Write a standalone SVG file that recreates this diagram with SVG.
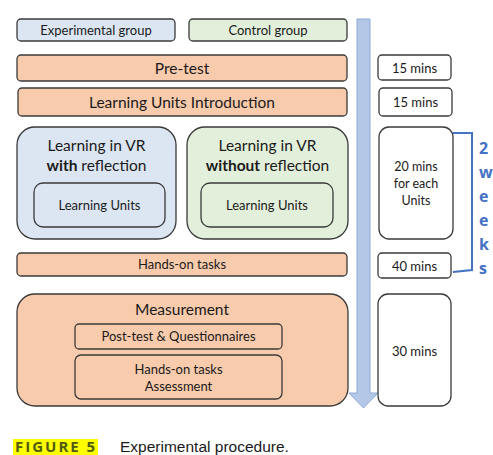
<svg xmlns="http://www.w3.org/2000/svg" width="493" height="455" viewBox="0 0 493 455">
<style>
text{font-family:Lato,"Open Sans","Liberation Sans",sans-serif;fill:#1a1a1a;text-anchor:middle}
.box{stroke:#3a3a3a;stroke-width:1.3}
.blue{fill:#dce6f2}
.green{fill:#e2efda}
.orange{fill:#f8cbad}
.white{fill:#ffffff}
.t15{font-size:15.5px}
.t13{font-size:13px}
.t12{font-size:12.5px}
.side{font-family:"Open Sans","Liberation Sans",sans-serif;font-weight:bold;fill:#4472c4;font-size:16px;text-anchor:start}
</style>
<rect width="493" height="455" fill="#ffffff"/>
<g id="connectors">
<path d="M357,19 H370 V393 H378 L363.5,408 L349,393 H357 Z" fill="#b4c7e7" stroke="#8eaadb" stroke-width="1"/>
<path d="M453,133 H472 V270 L453,272" fill="none" stroke="#4472c4" stroke-width="2"/>
</g>
<g id="exp-group"><rect class="box blue" x="17" y="19" width="158" height="22" rx="4"/><text class="t13" x="96" y="35">Experimental group</text></g>
<g id="ctrl-group"><rect class="box green" x="189" y="19" width="158" height="22" rx="4"/><text class="t13" x="268" y="35">Control group</text></g>
<g id="pretest"><rect class="box orange" x="17" y="55" width="330" height="26" rx="4"/><text class="t15" x="182" y="73.5">Pre-test</text></g>
<g id="intro"><rect class="box orange" x="18" y="88" width="329" height="28" rx="4"/><text class="t15" x="182" y="107.5">Learning Units Introduction</text></g>
<g id="t15a"><rect class="box white" x="378" y="55" width="73" height="25" rx="4"/><text class="t13" x="414.5" y="72.5">15 mins</text></g>
<g id="t15b"><rect class="box white" x="379" y="88" width="73" height="28" rx="4"/><text class="t13" x="415.5" y="107">15 mins</text></g>
<g id="vr-with"><rect class="box blue" x="17" y="127" width="159" height="112" rx="18"/>
<text class="t15" x="96.5" y="151">Learning in VR</text>
<text class="t15" x="96.5" y="171"><tspan font-weight="bold">with</tspan> reflection</text>
<rect class="box blue" x="34" y="183" width="131" height="44" rx="9"/><text class="t13" x="99.5" y="210">Learning Units</text></g>
<g id="vr-without"><rect class="box green" x="187" y="127" width="161" height="112" rx="18"/>
<text class="t15" x="267.5" y="151">Learning in VR</text>
<text class="t15" x="267.5" y="171"><tspan font-weight="bold">without</tspan> reflection</text>
<rect class="box green" x="201" y="183" width="132" height="44" rx="9"/><text class="t13" x="267" y="210">Learning Units</text></g>
<g id="t20"><rect class="box white" x="379" y="127" width="74" height="112" rx="10"/>
<text class="t12" x="416" y="171">20 mins</text><text class="t12" x="416" y="188">for each</text><text class="t12" x="416" y="205">Units</text></g>
<g id="handson"><rect class="box orange" x="17" y="253" width="330" height="23" rx="4"/><text class="t13" x="182" y="269">Hands-on tasks</text></g>
<g id="t40"><rect class="box white" x="378" y="253" width="73" height="25" rx="4"/><text class="t13" x="414.5" y="270.5">40 mins</text></g>
<g id="weeks"><text class="side" x="479" y="154">2</text><text class="side" x="479" y="178">w</text><text class="side" x="479" y="202">e</text><text class="side" x="479" y="226">e</text><text class="side" x="479" y="250">k</text><text class="side" x="479" y="274">s</text></g>
<g id="measurement"><rect class="box orange" x="17" y="294" width="331" height="112" rx="18"/>
<text class="t15" x="182" y="315">Measurement</text>
<rect class="box orange" x="75" y="324" width="207" height="25" rx="4"/><text class="t13" x="178.5" y="341">Post-test &amp; Questionnaires</text>
<rect class="box orange" x="75" y="355" width="207" height="44" rx="6"/><text class="t13" x="178.5" y="374">Hands-on tasks</text><text class="t13" x="178.5" y="391">Assessment</text></g>
<g id="t30"><rect class="box white" x="378" y="294" width="73" height="112" rx="10"/><text class="t13" x="414.5" y="356">30 mins</text></g>
<g id="caption">
<rect x="13" y="439" width="85" height="16" fill="#ffff00"/>
<text x="15" y="452" style="text-anchor:start;font-family:'Open Sans','Liberation Sans',sans-serif;font-weight:bold;font-size:15px;letter-spacing:2px;fill:#4f5b12">FIGURE 5</text>
<text x="120" y="452" style="text-anchor:start;font-family:'Liberation Sans',sans-serif;font-size:15.5px;fill:#1a1a1a">Experimental procedure.</text>
</g>
</svg>
